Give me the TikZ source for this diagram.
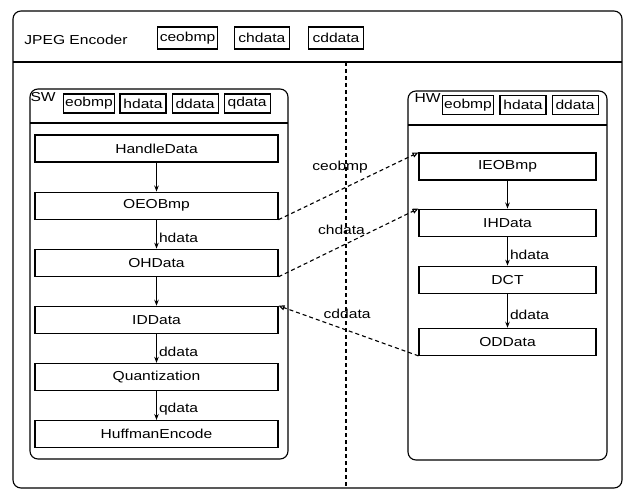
\documentclass[tikz,border=0pt]{standalone}
\usepackage{fontspec}
\setmainfont[FakeStretch=1.2]{Liberation Sans}
\usetikzlibrary{positioning,arrows.meta}

\begin{document}
\begin{tikzpicture}[x=1pt,y=1pt,
   font=\fontsize{13}{15}\selectfont,
   line width=1.1pt,
   node distance=29pt,
   task/.style={draw,minimum width=243pt,minimum height=27pt,inner sep=0pt},
   hwtask/.style={task,minimum width=177pt},
   var/.style={draw,minimum width=46pt,minimum height=19pt,inner xsep=2pt,inner ysep=0pt},
   chan/.style={var,minimum width=55pt,minimum height=22pt},
   flow/.style={-{Stealth[length=6pt,width=4.5pt]}},
   flowlabel/.style={right=1pt,inner sep=1pt,pos=0.62},
   link/.style={dash pattern=on 4pt off 3pt,-{Triangle[open,length=6pt,width=5pt]}},
   frame/.style={rounded corners=8pt}]

\useasboundingbox (0,0) rectangle (626,-489);

% encoder with its channels
\draw[frame] (13,-11) rectangle (622,-488);
\draw (13,-62) -- (622,-62);
\node (enc) at (76,-40) {JPEG Encoder};
\node[chan] (ceobmp) at (187.5,-38) {ceobmp};
\node[chan,right=16pt of ceobmp] (chdata) {chdata};
\node[chan,right=18pt of chdata] (cddata) {cddata};
\coordinate (splittop) at (346,-62);
\coordinate (splitbot) at (346,-489);
\draw[dash pattern=on 4pt off 3pt] (splittop) -- (splitbot);

% software part
\draw[frame] (30,-89) rectangle (288,-459);
\draw (30,-123) -- (288,-123);
\node[anchor=north west,inner sep=1pt] (sw) at (29,-91) {SW};
\node[var] (sweobmp) at (89,-103.5) {eobmp};
\node[var,right=4pt of sweobmp] (swhdata) {hdata};
\node[var,right=5pt of swhdata] (swddata) {ddata};
\node[var,right=5pt of swddata] (swqdata) {qdata};

\node[task] (handle) at (156.5,-148.5) {HandleData};
\node[task,below=of handle] (oeobmp) {OEOBmp};
\node[task,below=of oeobmp] (ohdata) {OHData};
\node[task,below=of ohdata] (iddata) {IDData};
\node[task,below=of iddata] (quant) {Quantization};
\node[task,below=of quant] (huff) {HuffmanEncode};

\draw[flow] (handle) -- (oeobmp);
\draw[flow] (oeobmp) -- node[flowlabel] {hdata} (ohdata);
\draw[flow] (ohdata) -- (iddata);
\draw[flow] (iddata) -- node[flowlabel] {ddata} (quant);
\draw[flow] (quant) -- node[flowlabel] {qdata} (huff);

% hardware part
\draw[frame] (408,-91) rectangle (607,-460);
\draw (408,-125) -- (607,-125);
\node[anchor=north west,inner sep=1pt] (hw) at (413,-92) {HW};
\node[var] (hweobmp) at (468,-105) {eobmp};
\node[var,right=5pt of hweobmp] (hwhdata) {hdata};
\node[var,right=5pt of hwhdata] (hwddata) {ddata};

\node[hwtask] (ieobmp) at (507.5,-166.5) {IEOBmp};
\node[hwtask,below=28pt of ieobmp] (ihdata) {IHData};
\node[hwtask,below=of ihdata] (dct) {DCT};
\node[hwtask,below=34pt of dct] (oddata) {ODData};

\draw[flow] (ieobmp) -- (ihdata);
\draw[flow] (ihdata) -- node[flowlabel] {hdata} (dct);
\draw[flow] (dct) -- node[flowlabel] {ddata} (oddata);

% channels between SW and HW
\draw[link] (oeobmp.south east) -- node[pos=0.44,above=13pt] {ceobmp} (ieobmp.north west);
\draw[link] (ohdata.south east) -- node[pos=0.45,above=7.5pt] {chdata} (ihdata.north west);
\draw[link] (oddata.south west) -- node[pos=0.51,above=8pt] {cddata} (iddata.north east);
\end{tikzpicture}
\end{document}
